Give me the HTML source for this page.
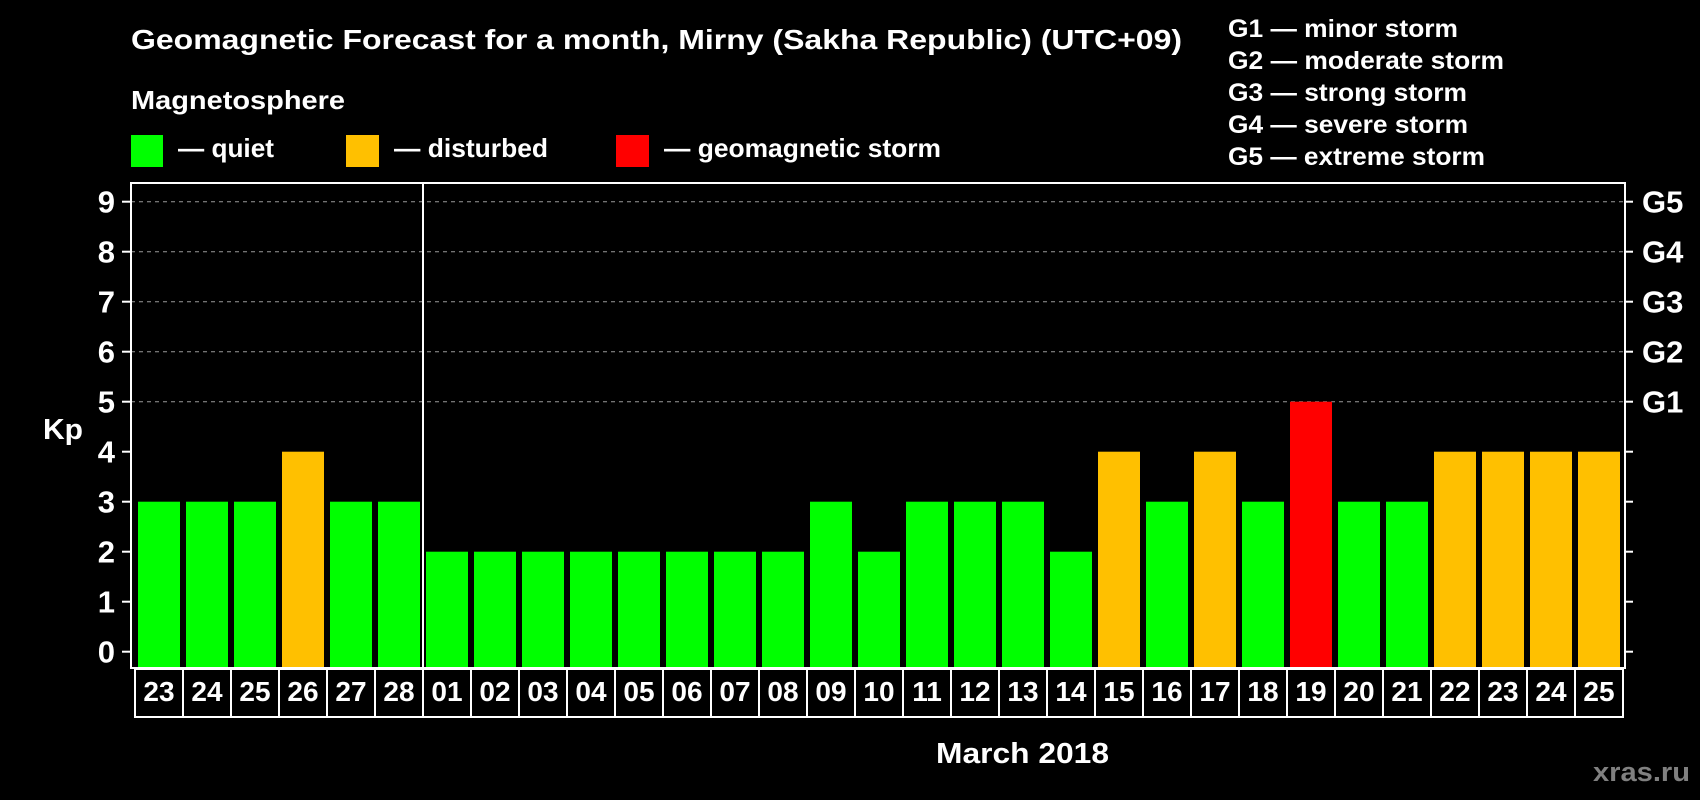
<!DOCTYPE html>
<html><head><meta charset="utf-8"><style>
html,body{margin:0;padding:0;background:#000;}
svg{display:block;font-family:"Liberation Sans",Arial,sans-serif;font-weight:bold;}
</style></head><body>
<svg id="chart" width="1700" height="800" viewBox="0 0 1700 800">
<rect width="1700" height="800" fill="#000"/>
<text x="131" y="49" fill="#fff" font-size="28" textLength="1051" lengthAdjust="spacingAndGlyphs">Geomagnetic Forecast for a month, Mirny (Sakha Republic) (UTC+09)</text>
<text x="131" y="109" fill="#fff" font-size="26" textLength="214" lengthAdjust="spacingAndGlyphs">Magnetosphere</text>
<g><rect x="131" y="135" width="32" height="32" fill="#00ff00"/><text x="178" y="157" fill="#fff" font-size="26" textLength="96" lengthAdjust="spacingAndGlyphs">— quiet</text></g>
<g><rect x="346" y="135" width="33" height="32" fill="#ffc000"/><text x="394" y="157" fill="#fff" font-size="26" textLength="154" lengthAdjust="spacingAndGlyphs">— disturbed</text></g>
<g><rect x="616" y="135" width="33" height="32" fill="#ff0000"/><text x="664" y="157" fill="#fff" font-size="26" textLength="277" lengthAdjust="spacingAndGlyphs">— geomagnetic storm</text></g>
<g fill="#fff" font-size="25">
<text x="1228" y="37" textLength="230" lengthAdjust="spacingAndGlyphs">G1 — minor storm</text>
<text x="1228" y="69" textLength="276" lengthAdjust="spacingAndGlyphs">G2 — moderate storm</text>
<text x="1228" y="101" textLength="239" lengthAdjust="spacingAndGlyphs">G3 — strong storm</text>
<text x="1228" y="133" textLength="240" lengthAdjust="spacingAndGlyphs">G4 — severe storm</text>
<text x="1228" y="165" textLength="257" lengthAdjust="spacingAndGlyphs">G5 — extreme storm</text>
</g>
<text x="43" y="439" fill="#fff" font-size="29" textLength="40" lengthAdjust="spacingAndGlyphs">Kp</text>
<text x="936" y="763" fill="#fff" font-size="29" textLength="173" lengthAdjust="spacingAndGlyphs">March 2018</text>
<text x="1593" y="781" fill="#808080" font-size="27" textLength="97" lengthAdjust="spacingAndGlyphs">xras.ru</text>
<g id="grid"></g><g id="bars"></g><g id="axes"></g><g id="dates"></g>
</svg>
<script>
const dates = ["23","24","25","26","27","28","01","02","03","04","05","06","07","08","09","10","11","12","13","14","15","16","17","18","19","20","21","22","23","24","25"];
const kp = [3,3,3,4,3,3,2,2,2,2,2,2,2,2,3,2,3,3,3,2,4,3,4,3,5,3,3,4,4,4,4];
const yTicks = [0,1,2,3,4,5,6,7,8,9];
const gLabels = ["G1","G2","G3","G4","G5"];
const gLevels = [5,6,7,8,9];
const NS="http://www.w3.org/2000/svg";
const L=131,R=1625,T=183,B=668,slot0=135,pitch=48;
const y=v=>651.7-50*v;
const x=i=>slot0+pitch*i;
function mk(t,a,p){const e=document.createElementNS(NS,t);for(const k in a)e.setAttribute(k,a[k]);p.appendChild(e);return e;}
const grid=document.getElementById('grid'),bars=document.getElementById('bars'),axes=document.getElementById('axes'),dts=document.getElementById('dates');
gLevels.forEach((g,i)=>{
 const ln=mk('line',{x1:L,x2:R,y1:y(g),y2:y(g),stroke:'#999','stroke-width':1,'stroke-dasharray':'4,4'},grid);
 
 
 const t=mk('text',{x:1642,y:y(g)+11,fill:'#fff','font-size':31},axes);t.textContent=gLabels[i];
 
 
});
kp.forEach((v,i)=>{
 const c=v>=5?'#ff0000':(v>=4?'#ffc000':'#00ff00');
 const r=mk('rect',{x:x(i)+3,y:y(v),width:42,height:B-y(v),fill:c},bars);
 
 
});
const fr=mk('rect',{x:L,y:T,width:R-L,height:B-T,fill:'none',stroke:'#fff','stroke-width':2},axes);


const sep=mk('line',{x1:x(6),x2:x(6),y1:T,y2:B,stroke:'#fff','stroke-width':2},axes);


yTicks.forEach(v=>{
 mk('line',{x1:122,x2:L,y1:y(v),y2:y(v),stroke:'#fff','stroke-width':2},axes);
 mk('line',{x1:R,x2:1633,y1:y(v),y2:y(v),stroke:'#fff','stroke-width':2},axes);
 const t=mk('text',{x:115,y:y(v)+11,fill:'#fff','font-size':31,'text-anchor':'end'},axes);t.textContent=v;
 
 
});
dates.forEach((d,i)=>{
 const r=mk('rect',{x:x(i),y:669,width:pitch,height:48,fill:'#000',stroke:'#fff','stroke-width':2},dts);
 
 
 const t=mk('text',{x:x(i)+pitch/2,y:701,fill:'#fff','font-size':28,'text-anchor':'middle'},dts);t.textContent=d;
 
 
});
</script>
</body></html>
